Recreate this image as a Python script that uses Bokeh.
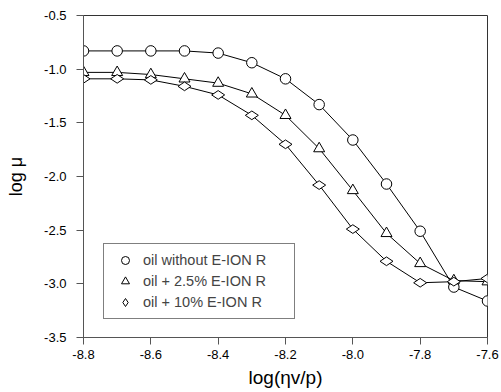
import numpy as np
from bokeh.plotting import figure
from bokeh.models import Legend, LegendItem, FixedTicker, Range1d, CustomJSTickFormatter
from bokeh.embed import file_html
from bokeh.resources import INLINE

x_vals = [-8.8, -8.7, -8.6, -8.5, -8.4, -8.3, -8.2, -8.1, -8.0, -7.9, -7.8, -7.7, -7.6]
oil_without = [-0.83, -0.83, -0.83, -0.83, -0.85, -0.94, -1.09, -1.33, -1.66, -2.07, -2.51, -3.03, -3.16]
oil_2_5 = [-1.03, -1.03, -1.05, -1.09, -1.13, -1.23, -1.43, -1.74, -2.13, -2.53, -2.81, -2.97, -2.98]
oil_10 = [-1.09, -1.09, -1.10, -1.16, -1.24, -1.43, -1.70, -2.08, -2.49, -2.79, -2.99, -2.98, -2.95]
labels = ["oil without E-ION R", "oil + 2.5% E-ION R", "oil + 10% E-ION R"]
x_ticks = [-8.8, -8.6, -8.4, -8.2, -8.0, -7.8, -7.6]
y_ticks = [-3.5, -3.0, -2.5, -2.0, -1.5, -1.0, -0.5]

FONT = "Liberation Sans"

p = figure(width=501, height=392, output_backend="svg", toolbar_location=None,
           x_range=Range1d(-8.8, -7.6), y_range=Range1d(-3.5, -0.5),
           min_border_left=83, min_border_right=14, min_border_top=15, min_border_bottom=55)
p.outline_line_color = "#333333"
p.outline_line_width = 1
p.grid.visible = False
p.background_fill_color = "white"
p.border_fill_color = "white"

for ax in (p.xaxis[0], p.yaxis[0]):
    ax.axis_line_color = "#555555"
    ax.major_tick_line_color = "#555555"
    ax.major_tick_out = 7
    ax.major_tick_in = 0
    ax.minor_tick_out = 0
    ax.minor_tick_in = 0
    ax.major_label_text_font = FONT
    ax.major_label_text_font_size = "13px"
    ax.major_label_text_color = "black"
    ax.axis_label_text_font = FONT
    ax.axis_label_text_font_style = "normal"
    ax.axis_label_text_color = "black"

p.xaxis.axis_label_text_font_size = "19px"
p.yaxis.axis_label_text_font_size = "18px"
p.xaxis.ticker = FixedTicker(ticks=x_ticks)
p.yaxis.ticker = FixedTicker(ticks=y_ticks)
p.yaxis.formatter = CustomJSTickFormatter(code="return tick.toFixed(1)")
p.xaxis.formatter = CustomJSTickFormatter(code="return tick.toFixed(1)")
p.xaxis.axis_label = "log(ηv/p)"
p.yaxis.axis_label = "log μ"
p.yaxis.major_label_standoff = 10
p.yaxis.axis_label_standoff = 15
p.xaxis.major_label_standoff = 5
p.xaxis.axis_label_standoff = 5

series = [(oil_without, "circle", 10.5, 0.0), (oil_2_5, "triangle", 11, 0.0), (oil_10, "diamond", 13, np.pi / 2)]
for ys, marker, size, ang in series:
    p.line(x_vals, ys, line_color="black", line_width=1)
items = []
for (ys, marker, size, ang), lab in zip(series, labels):
    r = p.scatter(x_vals, ys, marker=marker, size=size, angle=ang, fill_color="white",
                  line_color="black", line_width=1)
    items.append(LegendItem(label=lab, renderers=[r], index=0))

legend = Legend(items=items, location=(20, 18))
legend.label_text_font = FONT
legend.label_text_font_size = "14.5px"
legend.border_line_color = "black"
legend.border_line_width = 1
legend.padding = 6
legend.spacing = 1
legend.margin = 0
legend.glyph_width = 30
legend.glyph_height = 20
legend.label_height = 20
legend.label_standoff = 3
legend.label_width = 145
legend.background_fill_alpha = 1
p.add_layout(legend, "center")

open("out.html", "w").write(file_html(p, INLINE))
